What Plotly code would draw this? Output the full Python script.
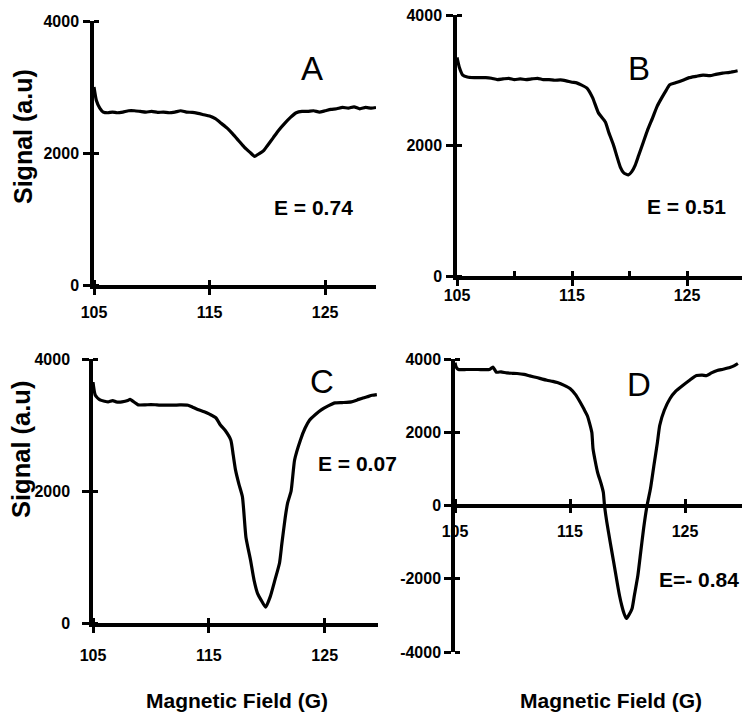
import plotly.graph_objects as go

W, H = 750, 724

# ---------------- data ----------------
a_x = [105.0, 105.2, 105.5, 105.8, 106.2, 106.6, 107.0, 107.5, 108.0, 108.5, 109.0, 109.5, 110.0, 110.5,
       111.0, 111.5, 112.0, 112.5, 113.0, 113.5, 114.0, 114.5, 115.0, 115.5, 116.0, 116.5, 117.0, 117.5,
       118.0, 118.5, 118.9, 119.3, 119.7, 120.0, 120.5, 121.0, 121.5, 122.0, 122.5, 123.0, 123.5, 124.0,
       124.5, 125.0, 125.5, 126.0, 126.5, 127.0, 127.5, 128.0, 128.5, 129.0, 129.4]
a_y = [3000, 2800, 2680, 2620, 2610, 2620, 2610, 2620, 2640, 2640, 2630, 2620, 2630, 2615,
       2620, 2610, 2620, 2640, 2620, 2615, 2600, 2580, 2560, 2520, 2450, 2380, 2290, 2190,
       2090, 2010, 1950, 1990, 2040, 2110, 2230, 2350, 2450, 2540, 2610, 2630, 2630, 2640,
       2620, 2640, 2660, 2670, 2690, 2680, 2700, 2670, 2690, 2680, 2690]

b_x = [105.0, 105.2, 105.5, 105.9, 106.5, 107.0, 107.5, 108.0, 108.5, 109.0, 109.5, 110.0, 110.5, 111.0,
       111.5, 112.0, 112.5, 113.0, 113.5, 114.0, 114.5, 115.0, 115.4, 115.8, 116.3, 116.8, 117.3, 117.9,
       118.2, 118.6, 119.2, 119.5, 119.9, 120.2, 120.5, 120.8, 121.2, 121.6, 122.0, 122.4, 122.8, 123.2,
       123.5, 124.0, 124.7, 125.2, 125.8, 126.4, 127.0, 127.5, 128.1, 128.7, 129.4]
b_y = [3350, 3200, 3080, 3050, 3040, 3040, 3040, 3030, 3010, 3020, 3030, 3010, 3020, 3010,
       3020, 3030, 3010, 3010, 3000, 3005, 2990, 2970, 2960, 2930, 2880, 2730, 2500, 2360,
       2200, 2010, 1670, 1580, 1550, 1600, 1700, 1850, 2050, 2250, 2420, 2600, 2730, 2850,
       2930, 2960, 3005, 3040, 3060, 3080, 3070, 3090, 3110, 3120, 3145]

c_x = [105.0, 105.2, 105.6, 106.0, 106.3, 106.7, 107.0, 107.5, 108.0, 108.2, 108.6, 108.9, 109.5, 110.0,
       110.5, 111.0, 111.5, 112.0, 112.5, 113.2, 113.6, 114.1, 114.6, 115.1, 115.6, 116.0, 116.4, 116.9,
       117.1, 117.3, 117.6, 117.9, 118.2, 118.6, 118.9, 119.2, 119.5, 119.9, 120.3, 120.7, 121.1, 121.3,
       121.6, 121.8, 122.1, 122.4, 122.9, 123.3, 123.7, 124.2, 124.7, 125.3, 125.9, 126.5, 127.3, 127.8,
       128.3, 128.7, 129.1, 129.5]
c_y = [3650, 3450, 3380, 3360, 3350, 3370, 3350, 3350, 3370, 3390, 3340, 3305, 3305, 3310,
       3305, 3300, 3300, 3300, 3305, 3300, 3270, 3230, 3200, 3160, 3110, 3000, 2920, 2770,
       2550, 2320, 2100, 1910, 1300, 950, 650, 450, 350, 240, 400, 650, 910, 1200,
       1610, 1820, 2000, 2470, 2770, 2950, 3075, 3160, 3230, 3290, 3335, 3340, 3350, 3380,
       3410, 3430, 3450, 3460]

d_x = [105.0, 105.1, 105.3, 106.0, 107.0, 108.0, 108.3, 108.6, 109.0, 109.5, 110.0, 110.4, 111.0, 111.5,
       112.1, 112.6, 113.0, 113.5, 113.9, 114.5, 115.0, 115.5, 115.9, 116.2, 116.5, 116.7, 116.9, 117.0,
       117.2, 117.4, 117.7, 117.9, 118.0, 118.2, 118.5, 118.8, 119.1, 119.3, 119.5, 119.7, 119.9, 120.1,
       120.4, 120.6, 120.9, 121.1, 121.4, 121.7, 122.0, 122.3, 122.6, 122.8, 123.2, 123.7, 124.2, 124.8,
       125.4, 126.0, 126.5, 126.9, 127.3, 127.8, 128.3, 128.9, 129.3, 129.6]
d_y = [3900, 3780, 3713, 3713, 3713, 3713, 3780, 3640, 3650, 3620, 3610, 3604, 3580, 3540,
       3494, 3450, 3420, 3390, 3358, 3280, 3194, 3020, 2812, 2640, 2457, 2250, 1993, 1556,
       1200, 901, 600, 355, 0, -450, -1010, -1550, -2102, -2450, -2730, -2950, -3085, -3000,
       -2812, -2450, -1911, -1400, -628, 0, 464, 1100, 1720, 2184, 2600, 2921, 3120, 3276,
       3420, 3549, 3560, 3549, 3620, 3686, 3720, 3767, 3820, 3877]

panel_letters = ["A", "B", "C", "D"]
e_labels = ["E = 0.74", "E = 0.51", "E = 0.07", "E=- 0.84"]
x_ticks = [105, 115, 125]
x_minor_b = [110, 115, 120, 125, 130]
y_ticks_pos = [0, 2000, 4000]
y_ticks_d = [-4000, -2000, 0, 2000, 4000]
x_title = "Magnetic Field (G)"
y_title = "Signal (a.u)"

# ---------------- layout helpers ----------------
OFF = 8  # page body margin of the html page

def fx(px):
    return (px - OFF) / W

def fy(py):
    return 1 - (py - OFF) / H

FAM = "Liberation Sans, Arial, sans-serif"
TICKFONT = dict(family=FAM, size=16, color="black", weight="bold")

panels = [
    dict(x=a_x, y=a_y, xd=(94, 376), yd=(285, 21), xr=[105, 129.4], yr=[0, 4000], yt=y_ticks_pos,
         ystand=1, xstand=4),
    dict(x=b_x, y=b_y, xd=(457, 744.5), yd=(276, 15), xr=[105, 130], yr=[0, 4000], yt=y_ticks_pos,
         ystand=1, xstand=-4),
    dict(x=c_x, y=c_y, xd=(93, 378), yd=(623, 359), xr=[105, 129.6], yr=[0, 4000], yt=y_ticks_pos,
         ystand=9, xstand=9),
    dict(x=d_x, y=d_y, xd=(455, 742.5), yd=(652, 359), xr=[105, 130], yr=[-4000, 4000], yt=y_ticks_d,
         ystand=0, xstand=5),
]

fig = go.Figure()
layout = {}
for i, p in enumerate(panels, start=1):
    sx = "" if i == 1 else str(i)
    fig.add_trace(go.Scatter(x=p["x"], y=p["y"], mode="lines",
                             line=dict(color="black", width=3.2, shape="spline", smoothing=0.5),
                             xaxis="x" + sx, yaxis="y" + sx, showlegend=False, hoverinfo="skip"))
    ydom = [fy(p["yd"][0]), fy(p["yd"][1])]
    xminor = x_minor_b if i == 2 else x_ticks
    xax = dict(domain=[fx(p["xd"][0]), fx(p["xd"][1])], range=p["xr"], showgrid=False, zeroline=False,
               showline=True, linecolor="black", linewidth=3.5, ticks="outside", ticklen=6,
               tickwidth=3, tickcolor="black", tickvals=x_ticks, ticktext=[str(v) for v in x_ticks],
               tickfont=TICKFONT, ticklabelstandoff=p["xstand"], ticklabeloverflow="allow",
               minor=dict(tickvals=xminor, ticks="inside", ticklen=5, tickwidth=3, tickcolor="black"),
               fixedrange=True, automargin=False)
    if i == 4:
        y0, y1 = p["yr"]
        pos = ydom[0] + (0 - y0) / (y1 - y0) * (ydom[1] - ydom[0])
        xax.update(anchor="free", position=pos)
    else:
        xax.update(anchor="y" + sx)
    yax = dict(domain=ydom, range=p["yr"], showgrid=False, zeroline=False, showline=True,
               linecolor="black", linewidth=3.5, ticks="outside", ticklen=7, tickwidth=3,
               tickcolor="black", tickvals=p["yt"], ticktext=[str(v) for v in p["yt"]],
               tickfont=TICKFONT, ticklabelstandoff=p["ystand"], ticklabeloverflow="allow",
               minor=dict(tickvals=p["yt"], ticks="inside", ticklen=5, tickwidth=3, tickcolor="black"),
               anchor="x" + sx, fixedrange=True, automargin=False)
    layout["xaxis" + sx] = xax
    layout["yaxis" + sx] = yax

annotations = []
letter_pos = [(312, 68), (639, 68), (322, 381), (639, 384)]
for t, (px, py) in zip(panel_letters, letter_pos):
    annotations.append(dict(text=t, x=fx(px), y=fy(py), xref="paper", yref="paper", showarrow=False,
                            font=dict(family=FAM, size=33, color="black"),
                            xanchor="center", yanchor="middle"))
e_pos = [(313, 207), (686, 206), (357, 464), (699, 579)]
for t, (px, py) in zip(e_labels, e_pos):
    annotations.append(dict(text=t, x=fx(px), y=fy(py), xref="paper", yref="paper", showarrow=False,
                            font=dict(family=FAM, size=21, color="black", weight="bold"),
                            xanchor="center", yanchor="middle"))
for px in (237, 611):
    annotations.append(dict(text=x_title, x=fx(px), y=fy(700), xref="paper", yref="paper", showarrow=False,
                            font=dict(family=FAM, size=21, color="black", weight="bold"),
                            xanchor="center", yanchor="middle"))
for (px, py, sz) in ((23, 137, 25), (21, 450, 25.5)):
    annotations.append(dict(text=y_title, x=fx(px), y=fy(py), xref="paper", yref="paper", showarrow=False,
                            textangle=-90,
                            font=dict(family=FAM, size=sz, color="black", weight="bold"),
                            xanchor="center", yanchor="middle"))

fig.update_layout(width=W, height=H, margin=dict(l=0, r=0, t=0, b=0, pad=0, autoexpand=False),
                  paper_bgcolor="white", plot_bgcolor="white", showlegend=False,
                  annotations=annotations, **layout)

fig.write_html("out.html", config={"displayModeBar": False})
